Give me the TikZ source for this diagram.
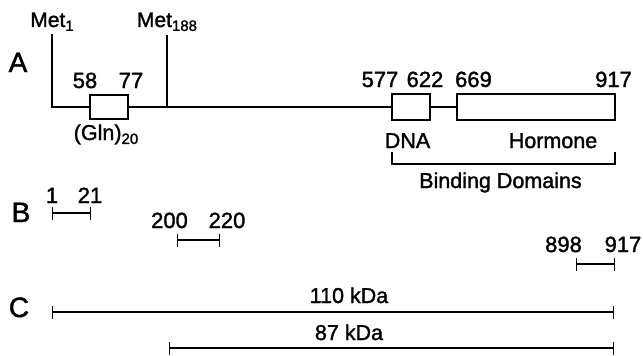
\documentclass[tikz,border=0pt]{standalone}
\usepackage{fontspec}
\setmainfont{Liberation Sans}[FakeBold=1.5]
\usetikzlibrary{arrows.meta}
\newcommand\sbs[1]{\raisebox{-0.35ex}{\fontsize{15}{15}\selectfont #1}}
\begin{document}
\begin{tikzpicture}[x=1pt,y=-1pt,
  lbl/.style={anchor=base,inner sep=0pt,font=\fontsize{22}{24}\selectfont},
  wrd/.style={anchor=base,inner sep=0pt,font=\fontsize{21.5}{24}\selectfont},
  met/.style={anchor=base,inner sep=0pt,font=\fontsize{21}{23}\selectfont},
  big/.style={anchor=base,inner sep=0pt,font=\fontsize{28}{30}\selectfont},
  dom/.style={draw,line width=1.2pt,minimum height=26pt,inner sep=0pt,fill=white},
  ln/.style={line width=1.2pt},
  seg/.style={line width=1.2pt,{Bar[width=13pt]}-{Bar[width=13pt]}}]
\useasboundingbox (0,0) rectangle (643,356);
% panel labels
\node[big] (lA) at (18,72) {A};
\node[big] (lB) at (21,222) {B};
\node[big] (lC) at (19,317) {C};
% panel A
\coordinate (m1top) at (52,34);
\coordinate (m1bot) at (52,107);
\coordinate (m188top) at (167,35);
\coordinate (m188bot) at (167,107);
\node[dom,minimum width=38pt,minimum height=24pt] (gln) at (109,107) {};
\node[dom,minimum width=38pt] (dna) at (411,107) {};
\node[dom,minimum width=158pt] (hor) at (536,107) {};
\draw[ln] (m1top) -- (m1bot) -- (gln.west);
\draw[ln] (gln.east) -- (dna.west);
\draw[ln] (dna.east) -- (hor.west);
\draw[ln] (m188top) -- (m188bot);
\node[met] (tm1) at (52,27) {Met\sbs{1}};
\node[met] (tm188) at (167,27) {Met\sbs{188}};
\node[lbl] (t58) at (85,88) {58};
\node[lbl] (t77) at (131,88) {77};
\node[wrd] (tgln) at (106,140) {(Gln)\sbs{20}};
\node[lbl] (t577) at (380,87) {577};
\node[lbl] (t622) at (425,87) {622};
\node[lbl] (t669) at (473.5,87) {669};
\node[lbl] (t917) at (613.5,87) {917};
\node[wrd] (tdna) at (407.5,148) {DNA};
\node[wrd] (thor) at (553,148) {Hormone};
\coordinate (brL) at (392,152);
\coordinate (brR) at (615,152);
\draw[ln] (brL) -- (392,164) -- (615,164) -- (brR);
\node[wrd] (tbind) at (500.5,188) {Binding Domains};
% panel B
\coordinate (b1a) at (52,213); \coordinate (b1b) at (91,213);
\coordinate (b2a) at (177,240); \coordinate (b2b) at (220,240);
\coordinate (b3a) at (576,264); \coordinate (b3b) at (615,264);
\draw[seg] (b1a) -- (b1b);
\draw[seg] (b2a) -- (b2b);
\draw[seg] (b3a) -- (b3b);
\node[lbl] (t1) at (52,203) {1};
\node[lbl] (t21) at (90,203) {21};
\node[lbl] (t200) at (169.5,228) {200};
\node[lbl] (t220) at (227,228) {220};
\node[lbl] (t898) at (563.5,252) {898};
\node[lbl] (t917b) at (623,252) {917};
% panel C
\coordinate (c1a) at (52,312); \coordinate (c1b) at (614,312);
\coordinate (c2a) at (169,348); \coordinate (c2b) at (614,348);
\draw[seg] (c1a) -- (c1b);
\draw[seg] (c2a) -- (c2b);
\node[wrd] (t110) at (349,303) {110 kDa};
\node[wrd] (t87) at (349,340) {87 kDa};
\end{tikzpicture}
\end{document}
